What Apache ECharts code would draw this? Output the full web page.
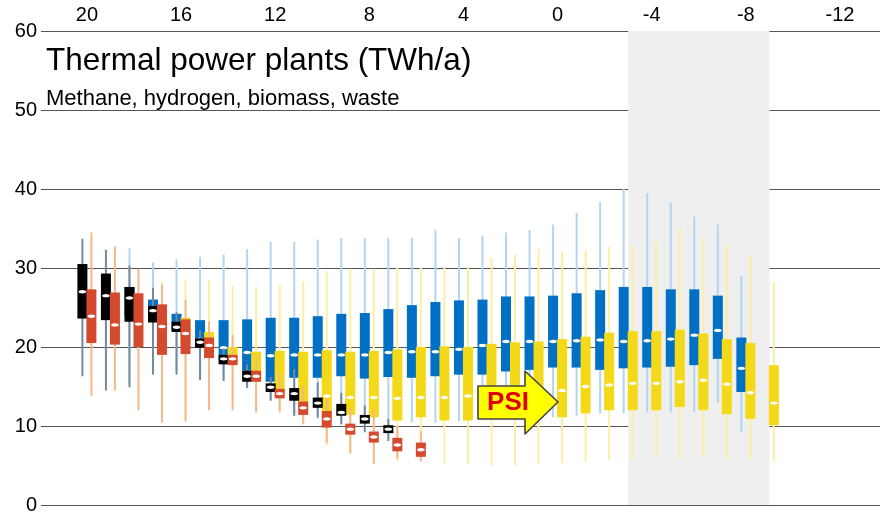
<!DOCTYPE html>
<html>
<head>
<meta charset="utf-8">
<script src="https://cdn.jsdelivr.net/npm/echarts@6/dist/echarts.min.js"></script>
<style>
  html, body { margin: 0; padding: 0; background: #fff; }
  #chart { width: 880px; height: 515px; }
</style>
</head>
<body>
<div id="chart"></div>
<script>
// x positions (top axis runs from 20 down to -12)
const xTickLabels = [20, 16, 12, 8, 4, 0, -4, -8, -12]
const xRange = [-13.7, 21.95]
const shadedRange = [-3, -9]

// each row: [low whisker, q1, median, q3, high whisker]
const blackYears = [20, 19, 18, 17, 16, 15, 14, 13, 12, 11, 10, 9, 8, 7]
const blackStats = [
  [16.3, 23.6, 27.0, 30.5, 33.7],
  [14.5, 23.4, 26.5, 29.3, 32.3],
  [14.9, 23.2, 26.2, 27.6, 30.3],
  [16.5, 23.1, 24.6, 25.2, 27.5],
  [16.5, 21.9, 22.5, 23.2, 24.4],
  [15.8, 19.9, 20.6, 21.1, 22.1],
  [15.7, 17.8, 18.5, 19.0, 19.8],
  [14.8, 15.6, 16.3, 17.0, 17.8],
  [13.2, 14.3, 14.9, 15.4, 16.2],
  [11.3, 13.2, 14.1, 14.8, 17.2],
  [11.1, 12.3, 12.9, 13.6, 15.5],
  [10.2, 11.3, 11.7, 12.8, 14.2],
  [9.2, 10.3, 10.9, 11.4, 12.6],
  [8.1, 9.1, 9.6, 10.1, 10.9]
]

const redYears = [20, 19, 18, 17, 16, 15, 14, 13, 12, 11, 10, 9, 8, 7, 6]
const redStats = [
  [13.8, 20.5, 23.9, 27.3, 34.5],
  [14.5, 20.3, 22.8, 26.9, 32.7],
  [12.0, 20.0, 22.9, 26.8, 29.9],
  [10.4, 19.0, 22.6, 25.4, 27.9],
  [10.6, 19.1, 21.7, 23.5, 26.0],
  [12.0, 18.6, 20.2, 21.2, 23.2],
  [12.0, 17.7, 18.5, 19.0, 21.5],
  [11.7, 15.6, 16.3, 17.0, 19.0],
  [11.7, 13.5, 14.1, 14.7, 16.7],
  [10.2, 11.4, 12.3, 13.1, 15.0],
  [7.9, 9.8, 10.9, 11.9, 13.5],
  [6.5, 8.9, 9.6, 10.3, 12.3],
  [5.2, 7.9, 8.6, 9.3, 12.0],
  [5.9, 6.8, 7.6, 8.5, 10.0],
  [5.5, 6.1, 7.0, 7.9, 9.4]
]

const blueYears = [18, 17, 16, 15, 14, 13, 12, 11, 10, 9, 8, 7, 6, 5, 4, 3, 2, 1, 0, -1, -2, -3, -4, -5, -6, -7, -8]
const blueStats = [
  [15.5, 24.0, 26.0, 27.6, 32.5],
  [16.8, 23.5, 24.8, 26.0, 30.7],
  [17.0, 22.2, 22.8, 24.2, 31.1],
  [16.5, 20.3, 21.0, 23.4, 31.4],
  [16.0, 18.4, 19.9, 23.4, 31.7],
  [15.0, 17.0, 19.3, 23.5, 32.4],
  [13.3, 15.6, 18.9, 23.7, 33.3],
  [11.3, 16.1, 19.0, 23.7, 33.3],
  [10.9, 16.1, 19.0, 23.9, 33.6],
  [10.5, 16.3, 19.0, 24.2, 33.8],
  [10.5, 16.0, 19.0, 24.3, 33.8],
  [10.5, 16.2, 19.3, 24.8, 33.8],
  [10.5, 16.1, 19.4, 25.3, 33.8],
  [10.4, 16.3, 19.4, 25.7, 34.8],
  [10.6, 16.5, 19.7, 25.9, 33.8],
  [10.9, 16.5, 20.2, 26.0, 34.1],
  [10.9, 16.9, 20.7, 26.4, 34.5],
  [11.1, 17.1, 20.7, 26.4, 34.8],
  [11.1, 17.4, 20.7, 26.5, 35.5],
  [11.3, 17.4, 20.8, 26.8, 37.0],
  [11.6, 17.1, 20.9, 27.2, 38.4],
  [11.6, 17.3, 20.7, 27.6, 40.0],
  [11.7, 17.4, 20.8, 27.6, 39.5],
  [11.7, 17.5, 21.0, 27.3, 38.3],
  [11.8, 17.7, 21.5, 27.3, 36.5],
  [12.9, 18.5, 22.1, 26.5, 35.5],
  [9.2, 14.3, 17.3, 21.2, 29.0]
]

const yellowYears = [17, 16, 15, 14, 13, 12, 11, 10, 9, 8, 7, 6, 5, 4, 3, 2, 1, 0, -1, -2, -3, -4, -5, -6, -7, -8, -9]
const yellowStats = [
  [11.0, 21.0, 23.0, 25.0, 28.2],
  [10.8, 20.5, 22.0, 23.7, 28.5],
  [12.5, 19.5, 20.5, 21.9, 28.5],
  [12.5, 18.0, 18.8, 20.0, 27.7],
  [12.0, 16.0, 16.6, 19.4, 27.6],
  [12.0, 14.0, 14.4, 19.5, 27.9],
  [10.5, 12.2, 12.8, 19.4, 28.3],
  [7.5, 11.0, 13.8, 19.6, 29.6],
  [6.5, 11.4, 13.6, 19.4, 29.9],
  [5.5, 11.1, 13.6, 19.5, 29.9],
  [5.5, 10.7, 13.5, 19.7, 30.0],
  [5.7, 11.1, 13.6, 20.0, 30.0],
  [5.3, 10.7, 13.6, 20.1, 30.2],
  [5.2, 10.7, 13.8, 20.0, 30.2],
  [5.0, 11.1, 13.8, 20.4, 31.3],
  [5.0, 11.1, 14.0, 20.6, 31.7],
  [5.2, 11.5, 14.2, 20.7, 32.4],
  [5.3, 11.1, 14.5, 21.0, 32.1],
  [5.5, 11.6, 15.0, 21.3, 32.2],
  [5.7, 12.0, 15.2, 21.8, 32.7],
  [5.8, 12.0, 15.4, 22.0, 32.8],
  [6.0, 12.0, 15.4, 22.0, 33.4],
  [5.9, 12.4, 15.6, 22.2, 35.0],
  [6.1, 12.0, 15.8, 21.7, 33.8],
  [5.7, 11.5, 15.3, 21.0, 33.0],
  [5.7, 10.9, 14.2, 20.5, 31.6],
  [5.5, 10.1, 12.9, 17.7, 28.2]
]

const FONT = 'Liberation Sans, Arial, sans-serif'

const toRows = (years, stats) => years.map((y, i) => [y].concat(stats[i]))

// draws one box: light whisker, solid box, white median dash
const boxRenderer = (offset, boxColor, whiskerColor) => (params, api) => {
  const c = api.value(0)
  const x = api.coord([c, 0])[0] + offset
  const yLow = api.coord([c, api.value(1)])[1]
  const yQ1 = api.coord([c, api.value(2)])[1]
  const yMed = api.coord([c, api.value(3)])[1]
  const yQ3 = api.coord([c, api.value(4)])[1]
  const yHigh = api.coord([c, api.value(5)])[1]
  return {
    type: 'group',
    children: [
      {
        type: 'line',
        shape: { x1: x, y1: yHigh, x2: x, y2: yLow },
        style: { stroke: whiskerColor, lineWidth: 2 }
      },
      {
        type: 'rect',
        shape: { x: x - 5, y: yQ3, width: 10, height: yQ1 - yQ3 },
        style: { fill: boxColor }
      },
      {
        type: 'ellipse',
        shape: { cx: x, cy: yMed, rx: 3.8, ry: 1.7 },
        style: { fill: '#fff' }
      }
    ]
  }
}

const boxSeries = (name, years, stats, offset, boxColor, whiskerColor) => ({
  name: name,
  type: 'custom',
  renderItem: boxRenderer(offset, boxColor, whiskerColor),
  encode: { x: 0, y: [1, 2, 3, 4, 5] },
  data: toRows(years, stats),
  z: 2
})

const chart = echarts.init(document.getElementById('chart'))

chart.setOption({
  animation: false,
  backgroundColor: '#fff',
  title: {
    text: 'Thermal power plants (TWh/a)',
    subtext: 'Methane, hydrogen, biomass, waste',
    left: 46,
    top: 45,
    padding: 0,
    itemGap: 11,
    textStyle: { fontFamily: FONT, fontSize: 31.5, fontWeight: 'normal', color: '#000' },
    subtextStyle: { fontFamily: FONT, fontSize: 22, color: '#000' }
  },
  grid: { left: 41, right: 0, top: 31, bottom: 3 },
  xAxis: {
    type: 'value',
    position: 'top',
    inverse: true,
    min: xRange[0],
    max: xRange[1],
    axisLine: { show: false },
    axisTick: { show: false },
    splitLine: { show: false },
    axisLabel: {
      customValues: xTickLabels,
      fontFamily: FONT,
      fontSize: 20,
      color: '#000',
      margin: 6
    }
  },
  yAxis: {
    type: 'value',
    position: 'left',
    min: 0,
    max: 60,
    interval: 10,
    axisLine: { show: false },
    axisTick: { show: false },
    splitLine: { lineStyle: { color: '#555', width: 1.2 } },
    axisLabel: { fontFamily: FONT, fontSize: 20, color: '#000', margin: 4 }
  },
  series: [
    {
      // helper: shaded period
      type: 'line',
      data: [],
      z: -1,
      markArea: {
        silent: true,
        itemStyle: { color: '#efefef' },
        data: [[{ xAxis: shadedRange[0] }, { xAxis: shadedRange[1] }]]
      }
    },
    boxSeries('blue', blueYears, blueStats, -4.5, '#0070c4', '#b4d5ef'),
    boxSeries('yellow', yellowYears, yellowStats, 4.5, '#f4d918', '#fbefa3'),
    boxSeries('black', blackYears, blackStats, -4.5, '#000', '#7389a0'),
    boxSeries('red', redYears, redStats, 4.5, '#d34a2f', '#f3b88c')
  ],
  graphic: [
    {
      type: 'polygon',
      z: 100,
      shape: {
        points: [[478, 386], [525, 386], [525, 371], [558, 402], [525, 434], [525, 419], [478, 419]]
      },
      style: { fill: '#ffff00', stroke: '#ff0000', lineWidth: 4, lineJoin: 'round' }
    },
    {
      type: 'text',
      z: 101,
      x: 508,
      y: 403,
      style: {
        text: 'PSI',
        fill: '#e00000',
        font: 'bold 26px ' + FONT,
        align: 'center',
        verticalAlign: 'middle'
      }
    }
  ]
})

// left frame line, placed from the grid's own scale
const frameTop = chart.convertToPixel({ gridIndex: 0 }, [xRange[1], 60])
const frameBottom = chart.convertToPixel({ gridIndex: 0 }, [xRange[1], 0])
chart.setOption({
  graphic: [
    {
      type: 'line',
      z: 50,
      shape: { x1: frameTop[0], y1: frameTop[1], x2: frameBottom[0], y2: frameBottom[1] },
      style: { stroke: '#444', lineWidth: 1.6 }
    }
  ]
})
</script>
</body>
</html>
